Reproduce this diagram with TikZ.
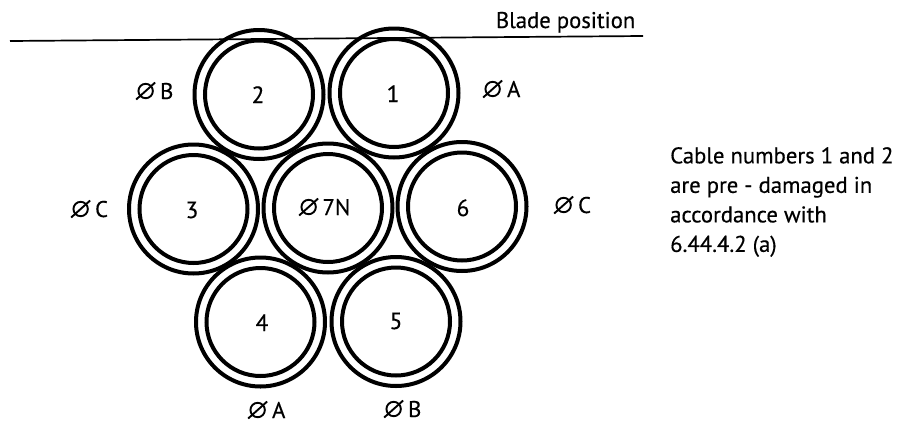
\documentclass[tikz,border=0pt]{standalone}
\usepackage{fontspec}
\newfontfamily\labfont[FakeBold=0.4]{PT Sans}
\setmainfont{PT Sans}
\tikzset{
  x=1pt,y=-1pt,
  outerc/.style={circle,draw=black,line width=4pt,minimum size=129pt,inner sep=0pt,outer sep=0pt},
  innerc/.style={circle,draw=black,line width=4pt,minimum size=108pt,inner sep=0pt,outer sep=0pt},
  lab/.style={inner sep=0pt,anchor=base west,font=\labfont\fontsize{22.7}{24}\selectfont},
  num/.style={inner sep=0pt,anchor=base,font=\labfont\fontsize{23.5}{24}\selectfont},
}
\newcommand{\dia}{\tikz[baseline=0pt,x=1pt,y=1pt,line width=1.9pt]{\draw (9.5,8) circle (7.2);\draw (0,-0.5)--(19,16.5);}\hspace{4pt}}
\begin{document}
\begin{tikzpicture}
\useasboundingbox (0,0) rectangle (897,426);
\fill[white] (0,0) rectangle (897,426);
\node[outerc] (o1) at (394,93) {};
\node[outerc] (o2) at (259,94.5) {};
\node[outerc] (o3) at (193.5,209) {};
\node[outerc] (o7) at (328,208) {};
\node[outerc] (o6) at (462,206.5) {};
\node[outerc] (o4) at (260.5,322) {};
\node[outerc] (o5) at (396,321.5) {};
\node[innerc] (i1) at (394,93) {};
\node[innerc] (i2) at (259,94.5) {};
\node[innerc] (i3) at (193.5,209) {};
\node[innerc] (i7) at (328,208) {};
\node[innerc] (i6) at (462,206.5) {};
\node[innerc] (i4) at (260.5,322) {};
\node[innerc] (i5) at (396,321.5) {};
\node[num] (n1) at (393,102) {1};
\node[num] (n2) at (258,103) {2};
\node[num] (n3) at (192,218) {3};
\node[num] (n6) at (463,216) {6};
\node[num] (n4) at (262,331) {4};
\node[num] (n5) at (396,329) {5};
\node[lab] (d7) at (298,215) {\dia\hspace{-0.5pt}7N};
\coordinate (bl) at (10,41);
\coordinate (br) at (643,36);
\draw[line width=1.7pt] (bl)--(br);
\node[lab,anchor=base east] (bp) at (635.5,28) {Blade position};
\node[lab] (db) at (135,99) {\dia B};
\node[lab] (da) at (482,97) {\dia A};
\node[lab] (dc1) at (70,217) {\dia C};
\node[lab] (dc2) at (553,213) {\dia C};
\node[lab] (da2) at (247,418) {\dia A};
\node[lab] (db2) at (383,417) {\dia B};
\node[lab,anchor=north west,align=left,font=\labfont\fontsize{22.7}{29.5}\selectfont] (note) at (670,147) {Cable numbers 1 and 2\\are pre - damaged in\\accordance with\\6.44.4.2 (a)};
\end{tikzpicture}
\end{document}
